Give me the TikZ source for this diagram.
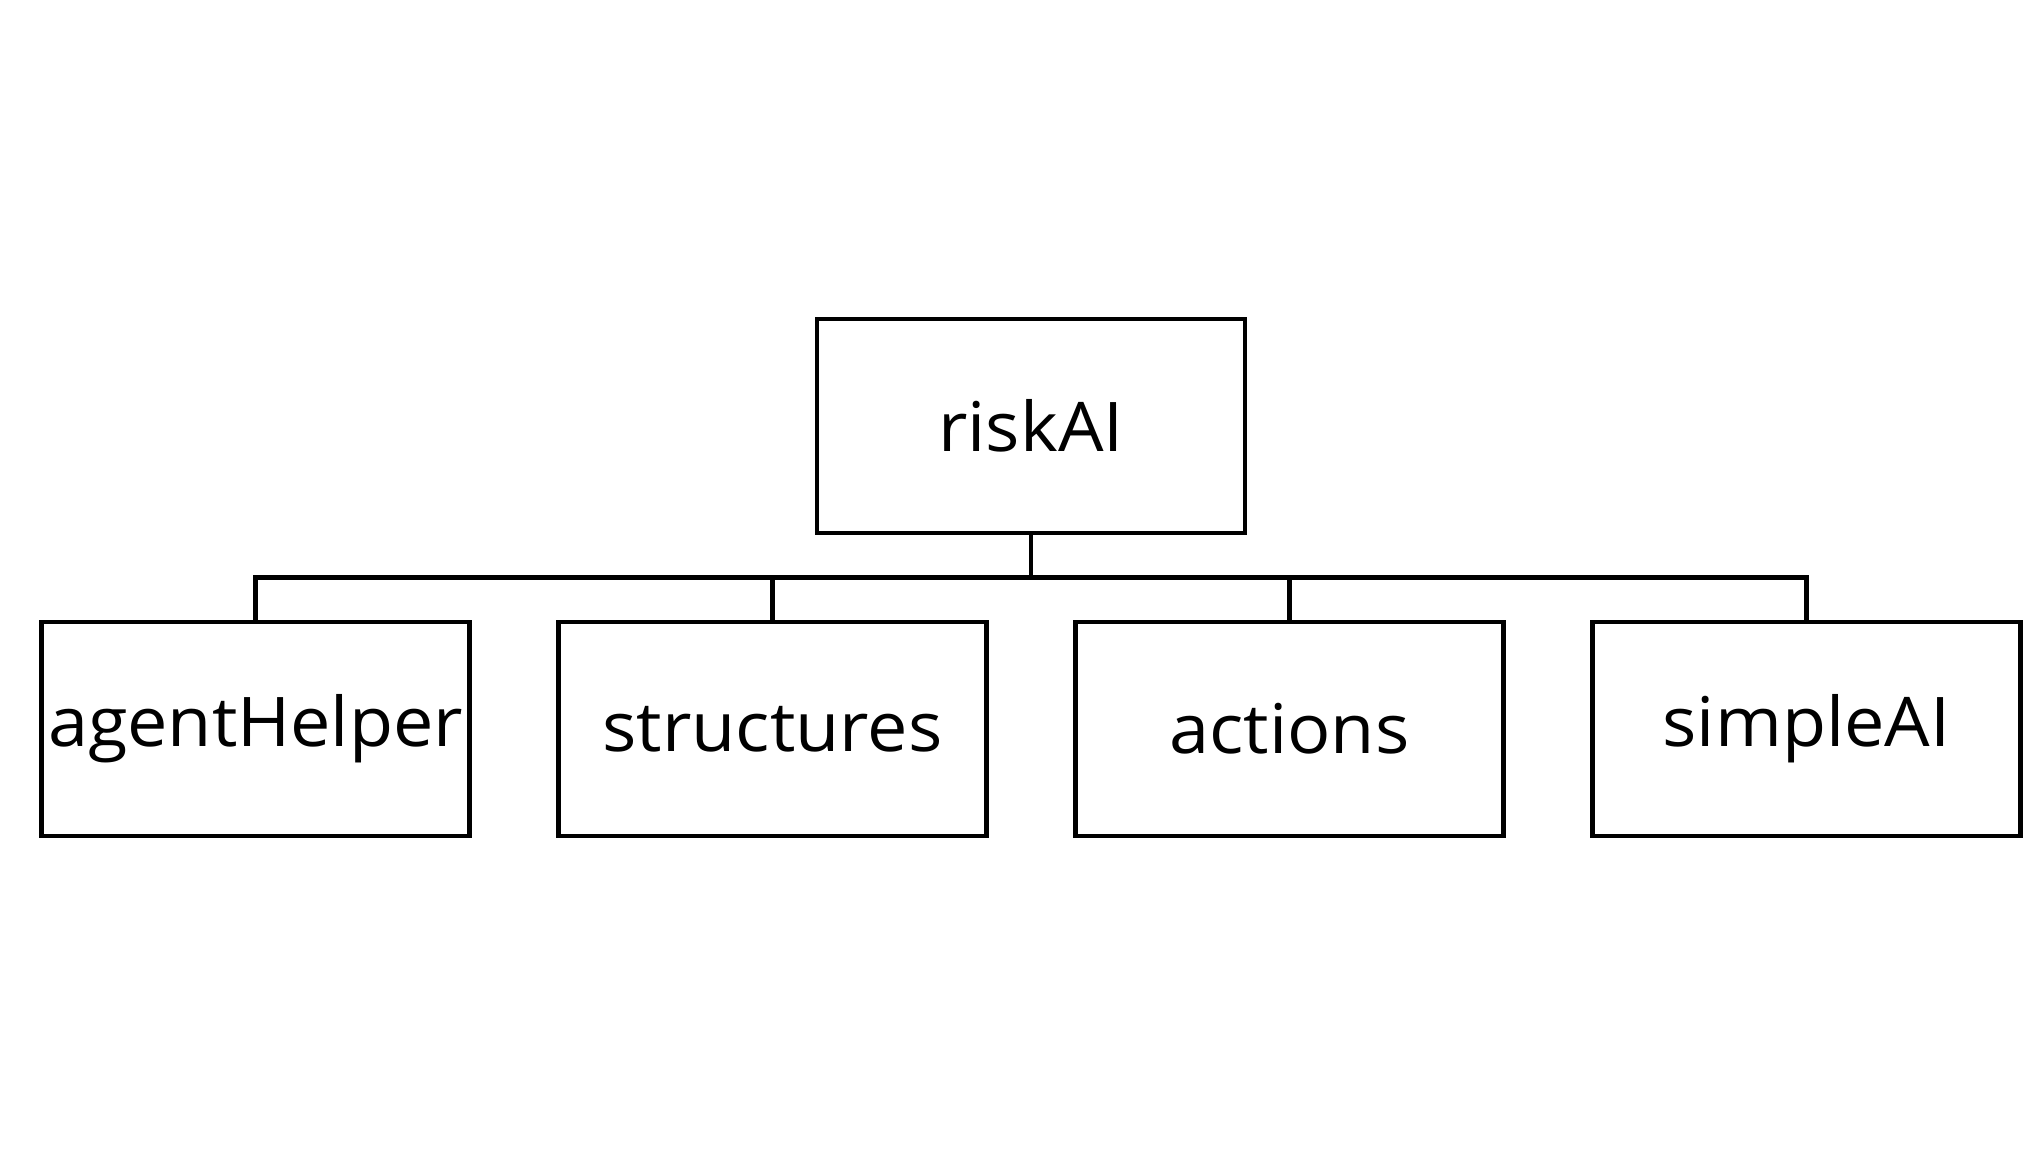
\documentclass[tikz,border=0pt]{standalone}
\usepackage{fontspec}
\setmainfont[FakeStretch=1.05]{Open Sans}
\usepackage{tikz}
\usetikzlibrary{trees}

\begin{document}
\begin{tikzpicture}[
	every node/.style={draw, line width=1.4pt, minimum width=4.28cm, minimum height=2.14cm, inner sep=0pt, font=\fontsize{19.5}{23}\selectfont},
	edge from parent/.style={draw, line width=1.4pt},
	edge from parent fork down,
	level distance=3.03cm,
	level 1/.style={sibling distance=5.17cm}
]
\useasboundingbox (-10.31,4.26) rectangle (9.92,-7.29);

\node (risk) {riskAI}
	child { node (agent) {agentHelper}}
	child { node (struct) {structures}}
	child { node (actions) {actions}}
	child { node (simple) {simpleAI}}
;
\end{tikzpicture}
\end{document}
